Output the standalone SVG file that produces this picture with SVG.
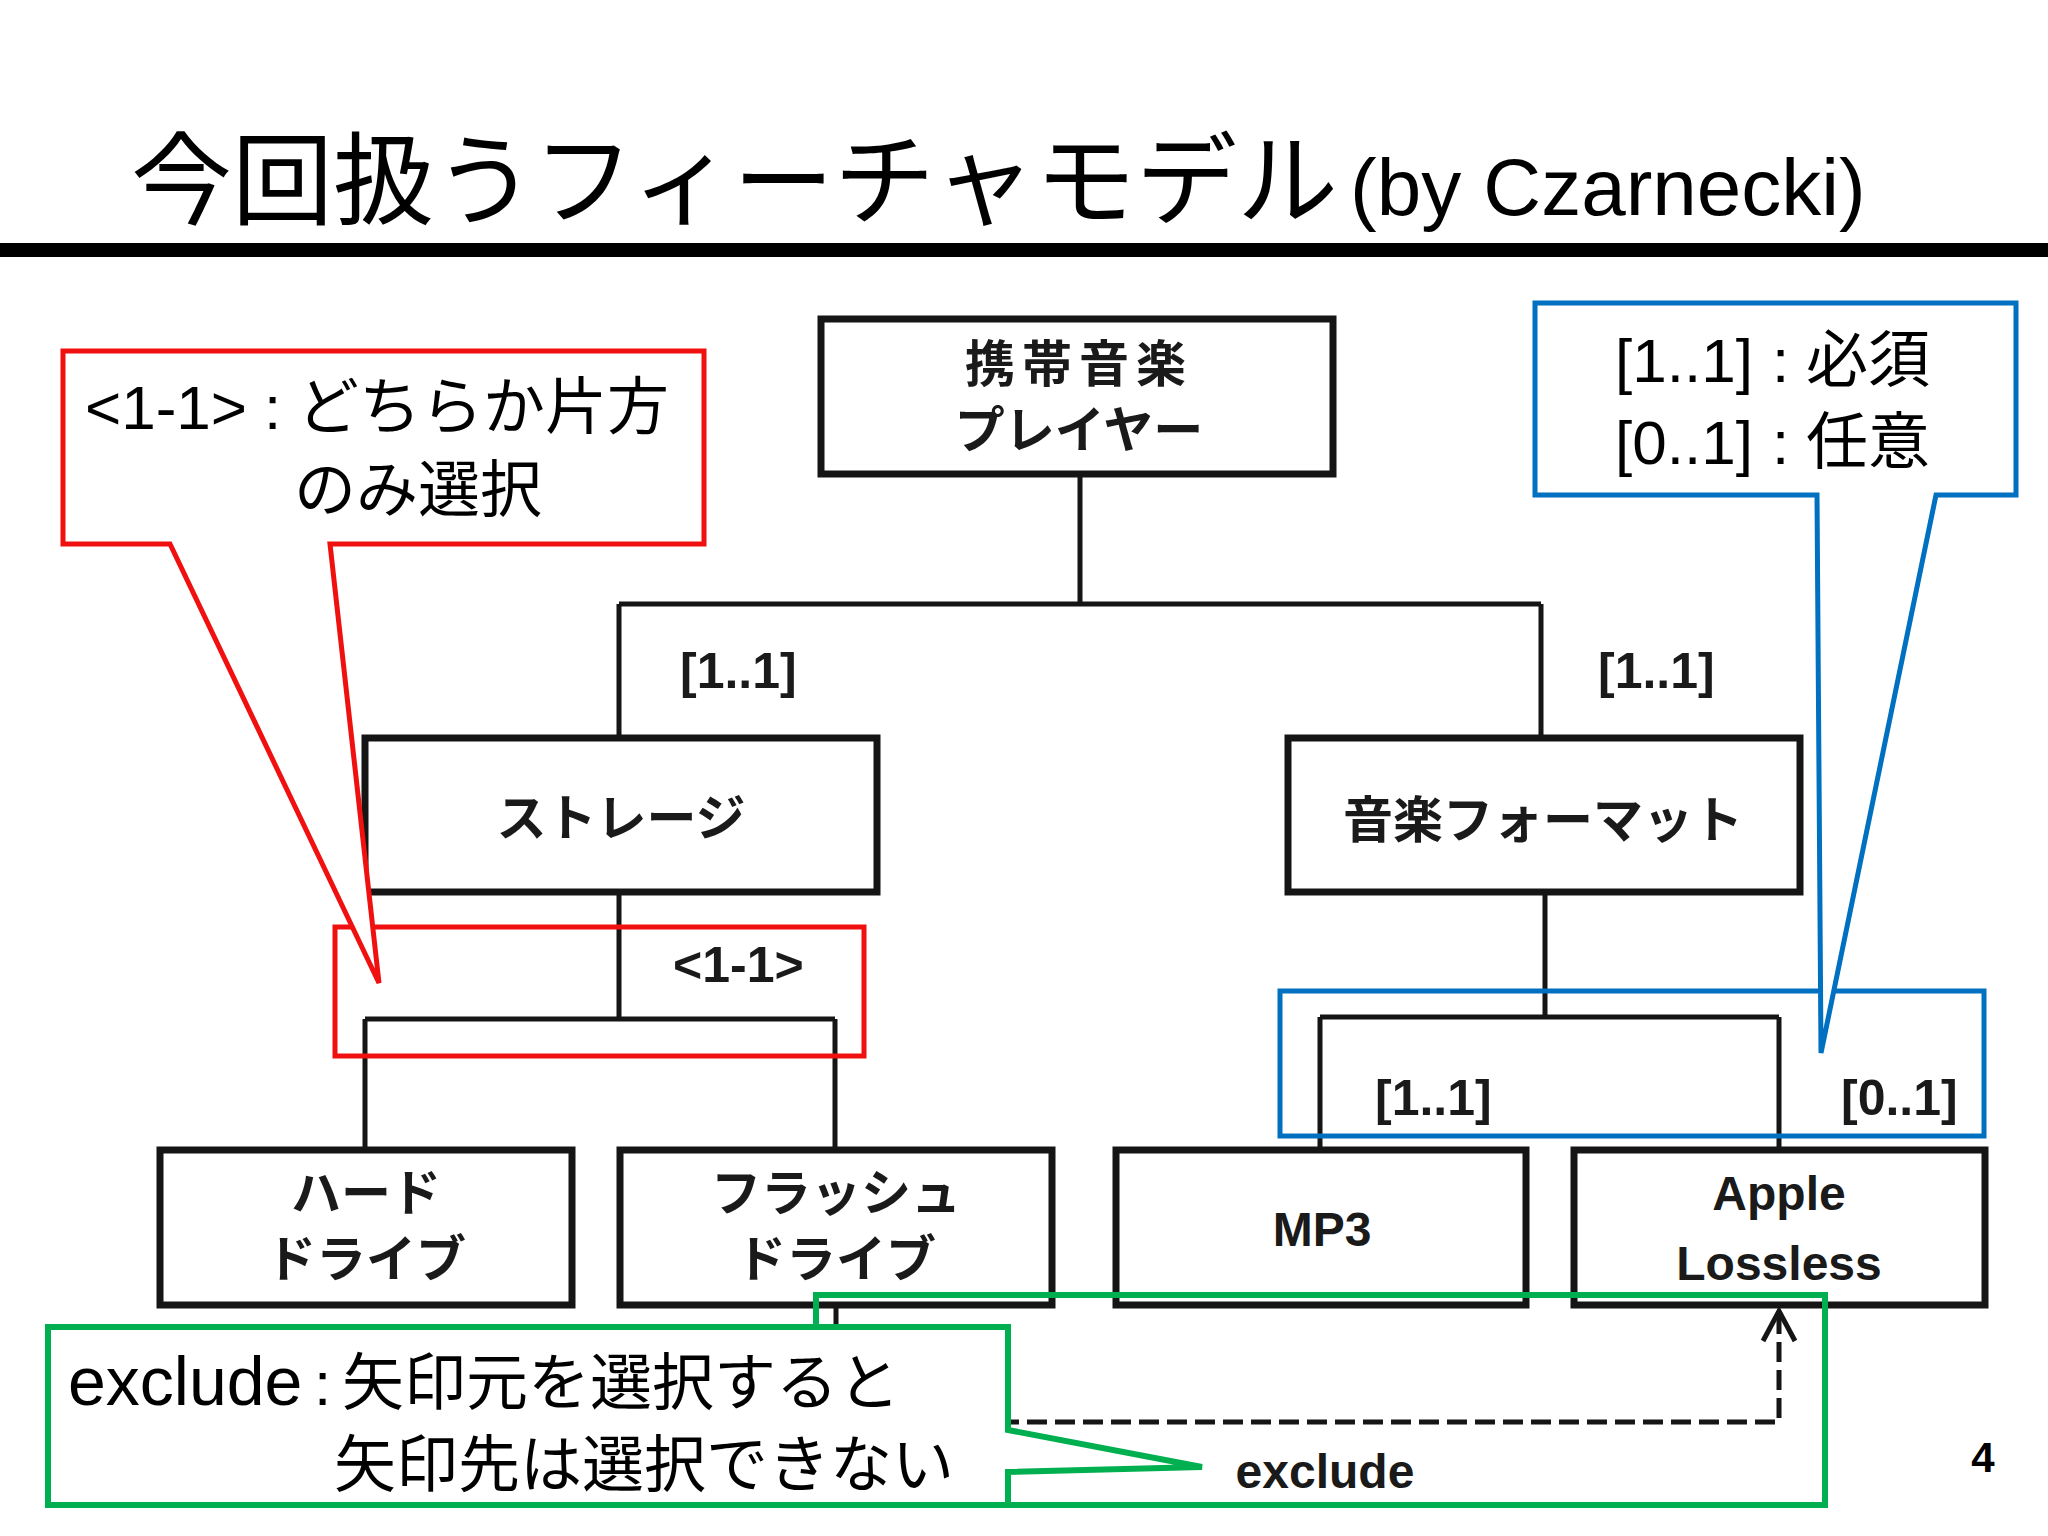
<svg xmlns="http://www.w3.org/2000/svg" width="2048" height="1536" viewBox="0 0 2048 1536">
<style>
.box{fill:#fff;stroke:#151515;stroke-width:7}
.con{fill:none;stroke:#151515;stroke-width:5}
.jp{font-family:"Noto Sans CJK JP",sans-serif}
.lat{font-family:"Liberation Sans","Noto Sans CJK JP",sans-serif}
.nl{font-family:"Noto Sans CJK JP",sans-serif;font-weight:700;font-size:50px;fill:#1a1a1a;text-anchor:middle}
.nll{font-family:"Liberation Sans",sans-serif;font-weight:700;font-size:48px;fill:#1a1a1a;text-anchor:middle}
.card{font-family:"Liberation Sans",sans-serif;font-weight:700;font-size:50px;fill:#1a1a1a}
.ct{font-family:"Liberation Sans","Noto Sans CJK JP",sans-serif;font-size:62px;fill:#000}
.red{fill:#fff;stroke:#f01010;stroke-width:5}
.blue{fill:#fff;stroke:#0070c0;stroke-width:5}
.green{fill:#fff;stroke:#00b050;stroke-width:6}
</style>
<rect width="2048" height="1536" fill="#fff"/>
<g id="title">
<text x="131" y="217" class="jp" font-size="101" fill="#000">今回扱うフィーチャモデル</text>
<text x="1350" y="215" class="lat" font-size="80" fill="#000">(by Czarnecki)</text>
<rect x="0" y="243" width="2048" height="14" fill="#000"/>
</g>
<g id="connectors">
<path class="con" d="M1080 474V604M619 604H1541M619 604V738M1541 604V738"/>
<path class="con" d="M619 892V1019M365 1019H835M365 1019V1150M835 1019V1150"/>
<path class="con" d="M1545 892V1017M1320 1017H1779M1320 1017V1150M1779 1017V1150"/>
<text x="680" y="688" class="card">[1..1]</text>
<text x="1598" y="688" class="card">[1..1]</text>
<text x="673" y="982" class="card">&lt;1-1&gt;</text>
<text x="1375" y="1115" class="card">[1..1]</text>
<text x="1841" y="1115" class="card">[0..1]</text>
</g>
<g id="node-player">
<rect class="box" x="821" y="319" width="512" height="155"/>
<text class="nl"><tspan x="1079" y="382" letter-spacing="7">携帯音楽</tspan><tspan x="1079" y="448">プレイヤー</tspan></text>
</g>
<g id="node-storage">
<rect class="box" x="365" y="738" width="512" height="154"/>
<text x="621" y="836" class="nl">ストレージ</text>
</g>
<g id="node-format">
<rect class="box" x="1288" y="738" width="512" height="154"/>
<text x="1543" y="838" class="nl">音楽フォーマット</text>
</g>
<g id="node-hdd">
<rect class="box" x="160" y="1150" width="412" height="155"/>
<text class="nl"><tspan x="366" y="1211">ハード</tspan><tspan x="366" y="1277">ドライブ</tspan></text>
</g>
<g id="node-flash">
<rect class="box" x="620" y="1150" width="432" height="155"/>
<text class="nl"><tspan x="836" y="1211">フラッシュ</tspan><tspan x="836" y="1277">ドライブ</tspan></text>
</g>
<g id="node-mp3">
<rect class="box" x="1116" y="1150" width="410" height="155"/>
<text x="1322" y="1246" class="nll" font-size="50">MP3</text>
</g>
<g id="node-apple">
<rect class="box" x="1574" y="1150" width="411" height="155"/>
<text class="nll"><tspan x="1779" y="1210">Apple</tspan><tspan x="1779" y="1280">Lossless</tspan></text>
</g>
<g id="exclude-edge">
<path d="M836 1305V1422H1779V1312" fill="none" stroke="#151515" stroke-width="5" stroke-dasharray="20 8"/>
<path d="M1763 1341L1779 1311L1795 1341" fill="none" stroke="#151515" stroke-width="5"/>
</g>
<g id="callout-red">
<rect x="335" y="927" width="529" height="129" fill="none" stroke="#f01010" stroke-width="5"/>
<path class="red" d="M63 351H704V544H330L379 983L170 544H63Z"/>
<text class="ct"><tspan x="85" y="429">&lt;1-1&gt;</tspan><tspan x="264" y="429">:</tspan><tspan x="297" y="429">どちらか片方</tspan><tspan x="294" y="512">のみ選択</tspan></text>
</g>
<g id="callout-blue">
<rect x="1280" y="991" width="704" height="145" fill="none" stroke="#0070c0" stroke-width="5"/>
<path class="blue" d="M1535 303H2016V495H1936L1821 1053L1817 495H1535Z"/>
<text class="ct"><tspan x="1615" y="382">[1..1]</tspan><tspan x="1772" y="382">:</tspan><tspan x="1806" y="382">必須</tspan><tspan x="1615" y="464">[0..1]</tspan><tspan x="1772" y="464">:</tspan><tspan x="1806" y="464">任意</tspan></text>
</g>
<g id="callout-green">
<rect x="816" y="1295" width="1009" height="210" fill="none" stroke="#00b050" stroke-width="6"/>
<path class="green" d="M48 1327H1008V1430L1202 1467L1008 1472V1505H48Z"/>
<text class="ct" font-size="64"><tspan x="68" y="1405" font-size="68">exclude</tspan><tspan x="314" y="1405">:</tspan><tspan x="342" y="1405">矢印元を選択すると</tspan><tspan x="334" y="1487">矢印先は選択できない</tspan></text>
</g>
<text x="1325" y="1488" class="nll">exclude</text>
<text x="1983" y="1472" font-family="Liberation Sans,sans-serif" font-weight="700" font-size="42" text-anchor="middle">4</text>
</svg>
